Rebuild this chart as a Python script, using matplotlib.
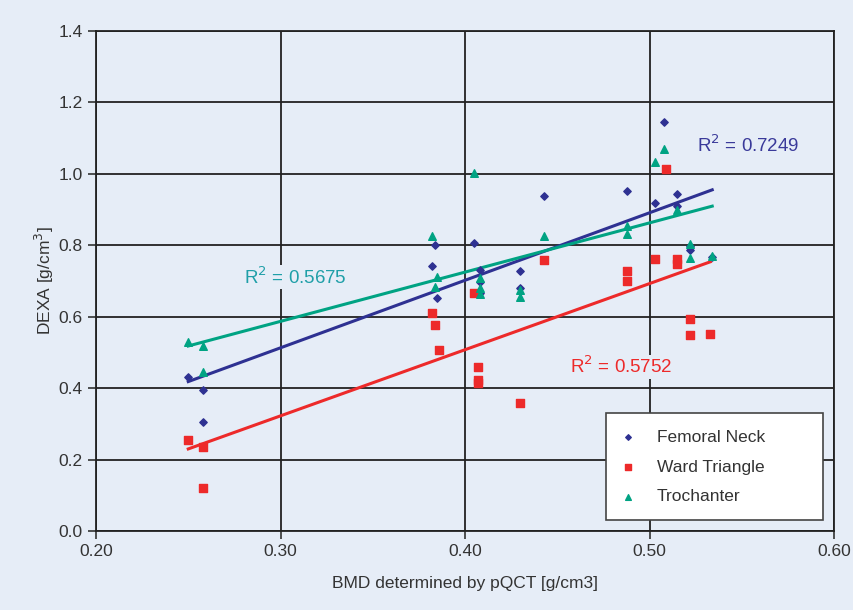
import numpy as np
import matplotlib.pyplot as plt
from matplotlib.patches import Rectangle

plt.rcParams['font.family'] = ['Liberation Sans Narrow', 'Liberation Sans', 'DejaVu Sans']

# femoral neck (blue diamonds)
fn_x = [0.250, 0.258, 0.258, 0.382, 0.384, 0.385, 0.405, 0.408, 0.408, 0.408,
        0.430, 0.430, 0.443, 0.488, 0.503, 0.508, 0.515, 0.515, 0.522, 0.522, 0.534]
fn_y = [0.43, 0.395, 0.305, 0.742, 0.80, 0.652, 0.806, 0.731, 0.697, 0.667,
        0.728, 0.68, 0.938, 0.952, 0.918, 1.145, 0.944, 0.91, 0.798, 0.787, 0.767]

# ward triangle (red squares)
wt_x = [0.250, 0.258, 0.258, 0.382, 0.384, 0.386, 0.405, 0.407, 0.407, 0.407,
        0.430, 0.443, 0.488, 0.488, 0.503, 0.509, 0.515, 0.515, 0.522, 0.522, 0.533]
wt_y = [0.255, 0.235, 0.12, 0.61, 0.577, 0.507, 0.666, 0.459, 0.423, 0.414,
        0.358, 0.759, 0.728, 0.70, 0.762, 1.014, 0.762, 0.748, 0.594, 0.549, 0.552]

# trochanter (green triangles)
tr_x = [0.250, 0.258, 0.258, 0.382, 0.385, 0.384, 0.405, 0.408, 0.408, 0.408,
        0.430, 0.430, 0.443, 0.488, 0.488, 0.503, 0.508, 0.515, 0.522, 0.522, 0.534]
tr_y = [0.529, 0.518, 0.445, 0.826, 0.711, 0.683, 1.003, 0.708, 0.68, 0.665,
        0.675, 0.655, 0.826, 0.854, 0.832, 1.033, 1.07, 0.899, 0.804, 0.765, 0.77]

r2_labels = ["R$^2$ = 0.7249", "R$^2$ = 0.5752", "R$^2$ = 0.5675"]

bg = '#e6edf7'
blue = '#2e3192'
red = '#ed2a2a'
green = '#00a383'

fig = plt.figure(figsize=(8.54, 6.10), dpi=100, facecolor=bg)
ax = fig.add_axes([96/854, 1-531/610, (834-96)/854, 500/610])
ax.set_facecolor(bg)

ax.scatter(fn_x, fn_y, marker='D', s=14, color=blue, label='Femoral Neck', zorder=3)
ax.scatter(wt_x, wt_y, marker='s', s=40, color=red, label='Ward Triangle', zorder=3)
ax.scatter(tr_x, tr_y, marker='^', s=30, color=green, label='Trochanter', zorder=3)

# linear trend lines
for xs, ys, c in [(fn_x, fn_y, blue), (wt_x, wt_y, red), (tr_x, tr_y, green)]:
    k, b = np.polyfit(xs, ys, 1)
    xx = np.array([min(xs), max(xs)])
    ax.plot(xx, k*xx + b, color=c, lw=2.2, zorder=2)

box = dict(facecolor=bg, edgecolor='none', pad=1)
ax.text(0.526, 1.08, r2_labels[0], color='#3a3a9a', fontsize=13.5, ha='left', va='center', bbox=box)
ax.text(0.457, 0.46, r2_labels[1], color=red, fontsize=13.5, ha='left', va='center', bbox=box)
ax.text(0.280, 0.71, r2_labels[2], color='#1f9fa8', fontsize=13.5, ha='left', va='center', bbox=box)

ax.set_xlim(0.20, 0.60)
ax.set_ylim(0.0, 1.4)
ax.set_xticks(np.arange(0.2, 0.61, 0.1))
ax.set_yticks(np.arange(0.0, 1.41, 0.2))
ax.set_xticklabels(['0.20', '0.30', '0.40', '0.50', '0.60'])
ax.set_yticklabels(['0.0', '0.2', '0.4', '0.6', '0.8', '1.0', '1.2', '1.4'])
ax.grid(True, color='#222222', lw=1.3)
ax.set_axisbelow(True)
for s in ax.spines.values():
    s.set_color('#222222')
    s.set_linewidth(1.3)
ax.tick_params(direction='out', length=6, width=1.2, color='#333333', labelsize=12.5, labelcolor='#333333')

ax.set_xlabel('BMD determined by pQCT [g/cm3]', fontsize=12.5, color='#333333', labelpad=12)
ax.set_ylabel('DEXA [g/cm$^3$]', fontsize=12.5, color='#333333', labelpad=2)

# legend frame drawn separately so it can be wider than the text
ax.add_patch(Rectangle((0.691, 0.022), 0.294, 0.214, transform=ax.transAxes,
                       facecolor='white', edgecolor='#444444', lw=1.2, zorder=4, clip_on=False))
leg = ax.legend(loc='center left', bbox_to_anchor=(0.709, 0.128), frameon=False,
                fontsize=12.5, labelspacing=0.85, borderpad=0, handletextpad=1.16,
                handlelength=1.0, borderaxespad=0.0, markerscale=0.75)
leg.set_zorder(5)
for t in leg.get_texts():
    t.set_color('#333333')

fig.savefig('out.png', dpi=100, facecolor=bg)
